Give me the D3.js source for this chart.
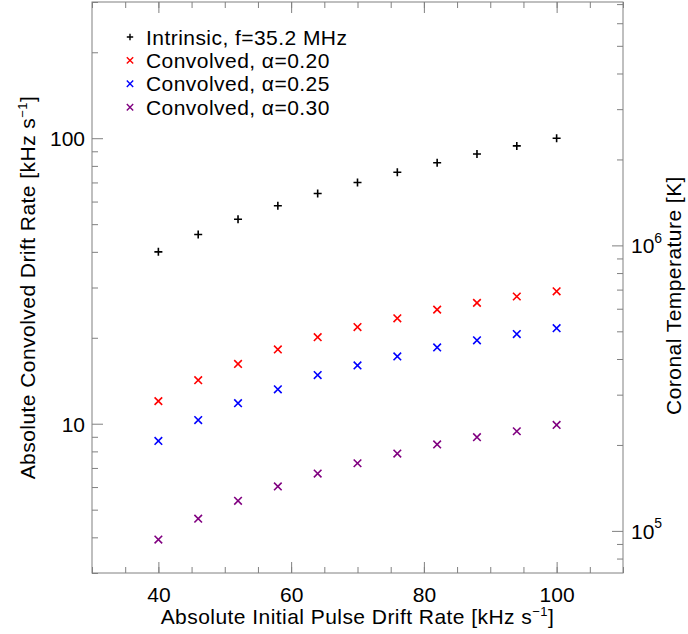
<!DOCTYPE html>
<html>
<head>
<meta charset="utf-8">
<script src="https://cdn.jsdelivr.net/npm/d3@7"></script>
<style>
  body { margin: 0; background: #fff; }
  text { font-family: "Liberation Sans", Arial, sans-serif; fill: #000; }
</style>
</head>
<body>
<div id="chart"></div>
<script>
const driftRates = [40, 46, 52, 58, 64, 70, 76, 82, 88, 94, 100];
const intrinsic = [40, 46, 52, 58, 64, 70, 76, 82, 88, 94, 100];
const conv020 = [12.0, 14.2, 16.2, 18.2, 20.1, 21.8, 23.4, 25.1, 26.5, 27.9, 29.1];
const conv025 = [8.7, 10.3, 11.8, 13.2, 14.8, 16.0, 17.2, 18.5, 19.6, 20.6, 21.6];
const conv030 = [3.93, 4.65, 5.37, 6.03, 6.69, 7.27, 7.86, 8.46, 8.97, 9.41, 9.90];

const seriesNames = ['Intrinsic, f=35.2 MHz', 'Convolved, \u03b1=0.20', 'Convolved, \u03b1=0.25', 'Convolved, \u03b1=0.30'];
const seriesColors = ['#000000', '#ff0000', '#0000ff', '#800080'];

const xRange = [30, 110];
const xMajor = [40, 60, 80, 100];
const xMinor = d3.range(30, 111, 5);
const driftRange = [3, 300];
const driftMajor = [10, 100];
const driftMinor = [3, 4, 5, 6, 7, 8, 9, 20, 30, 40, 50, 60, 70, 80, 90, 200, 300];
const tempRange = [7.12e4, 7.12e6];
const tempMajor = [1e5, 1e6];
const tempMinor = [8e4, 9e4, 2e5, 3e5, 4e5, 5e5, 6e5, 7e5, 8e5, 9e5, 2e6, 3e6, 4e6, 5e6, 6e6, 7e6];

const W = 688, H = 634;
const m = { left: 92, top: 2, right: 65, bottom: 61 };
const iw = W - m.left - m.right, ih = H - m.top - m.bottom;
const axisColor = '#808080';
const fs = 21;       // font size for all text
const ls = '0.45px'; // IDL text is set a bit looser than Liberation

const svg = d3.select('#chart').append('svg')
  .attr('width', W)
  .attr('height', H)
  .append('g')
  .attr('transform', `translate(${m.left},${m.top})`);

const x = d3.scaleLinear().domain(xRange).range([0, iw]);
const y = d3.scaleLog().domain(driftRange).range([ih, 0]);
const yT = d3.scaleLog().domain(tempRange).range([ih, 0]);

function styleAxis(g) {
  g.select('.domain').remove();
  g.selectAll('line').attr('stroke', axisColor);
  g.selectAll('text').attr('font-size', fs).attr('fill', '#000');
}

// bottom and top
svg.append('g').attr('transform', `translate(0,${ih})`)
  .call(d3.axisBottom(x).tickValues(xMajor).tickSize(-11).tickPadding(10).tickFormat(d3.format('d')))
  .call(styleAxis)
  .selectAll('text').attr('dy', '0.92em');
svg.append('g').attr('transform', `translate(0,${ih})`)
  .call(d3.axisBottom(x).tickValues(xMinor).tickSize(-6).tickFormat(''))
  .call(styleAxis);
svg.append('g')
  .call(d3.axisTop(x).tickValues(xMajor).tickSize(-11).tickFormat(''))
  .call(styleAxis);
svg.append('g')
  .call(d3.axisTop(x).tickValues(xMinor).tickSize(-6).tickFormat(''))
  .call(styleAxis);

// left drift rate axis
svg.append('g')
  .call(d3.axisLeft(y).tickValues(driftMajor).tickSize(-11).tickPadding(7).tickFormat(d3.format('d')))
  .call(styleAxis)
  .selectAll('text').attr('dy', '0.36em');
svg.append('g')
  .call(d3.axisLeft(y).tickValues(driftMinor).tickSize(-6).tickFormat(''))
  .call(styleAxis);

// right temperature axis
const rightMajor = svg.append('g').attr('transform', `translate(${iw},0)`)
  .call(d3.axisRight(yT).tickValues(tempMajor).tickSize(-11).tickPadding(8).tickFormat(d => '10'))
  .call(styleAxis);
rightMajor.selectAll('text').attr('dy', '0.36em')
  .append('tspan').attr('font-size', 14).attr('dy', '-0.75em')
  .text(d => Math.round(Math.log10(d)));
svg.append('g').attr('transform', `translate(${iw},0)`)
  .call(d3.axisRight(yT).tickValues(tempMinor).tickSize(-6).tickFormat(''))
  .call(styleAxis);

svg.append('rect')
  .attr('width', iw).attr('height', ih)
  .attr('fill', 'none').attr('stroke', axisColor).attr('stroke-width', 1);

// axis titles
const xt = svg.append('text')
  .attr('x', iw / 2).attr('y', ih + 51)
  .attr('text-anchor', 'middle').attr('font-size', fs).attr('letter-spacing', ls)
  .text('Absolute Initial Pulse Drift Rate [kHz s');
xt.append('tspan').attr('font-size', 13).attr('dy', -8).text('\u22121');
xt.append('tspan').attr('dy', 8).text(']');

const yt = svg.append('text')
  .attr('transform', `translate(${-57},${ih / 2}) rotate(-90)`)
  .attr('text-anchor', 'middle').attr('font-size', fs).attr('letter-spacing', ls)
  .text('Absolute Convolved Drift Rate [kHz s');
yt.append('tspan').attr('font-size', 13).attr('dy', -8).text('\u22121');
yt.append('tspan').attr('dy', 8).text(']');

svg.append('text')
  .attr('transform', `translate(${iw + 58},${ih / 2 + 8}) rotate(-90)`)
  .attr('text-anchor', 'middle').attr('font-size', fs).attr('letter-spacing', ls)
  .text('Coronal Temperature [K]');

// markers
const plus = s => `M${-s},0H${s}M0,${-s}V${s}`;
const cross = s => `M${-s},${-s}L${s},${s}M${-s},${s}L${s},${-s}`;

const series = [intrinsic, conv020, conv025, conv030];
series.forEach((vals, i) => {
  const pts = driftRates.map((d, j) => ({ x: d, v: vals[j] }));
  svg.append('g').selectAll('path')
    .data(pts)
    .enter()
    .append('path')
    .attr('transform', d => `translate(${x(d.x)},${y(d.v)})`)
    .attr('d', i === 0 ? plus(4) : cross(3.8))
    .attr('fill', 'none')
    .attr('stroke', seriesColors[i])
    .attr('stroke-width', 1.6);
});

// legend
const legend = svg.append('g').attr('transform', 'translate(38,35)');
seriesNames.forEach((name, i) => {
  const row = legend.append('g').attr('transform', `translate(0,${i * 23.4})`);
  row.append('path')
    .attr('d', i === 0 ? plus(3.2) : cross(3.2))
    .attr('fill', 'none')
    .attr('stroke', seriesColors[i])
    .attr('stroke-width', 1.4);
  row.append('text')
    .attr('x', 16).attr('dy', '0.36em')
    .attr('font-size', fs).attr('letter-spacing', ls)
    .text(name);
});
</script>
</body>
</html>
